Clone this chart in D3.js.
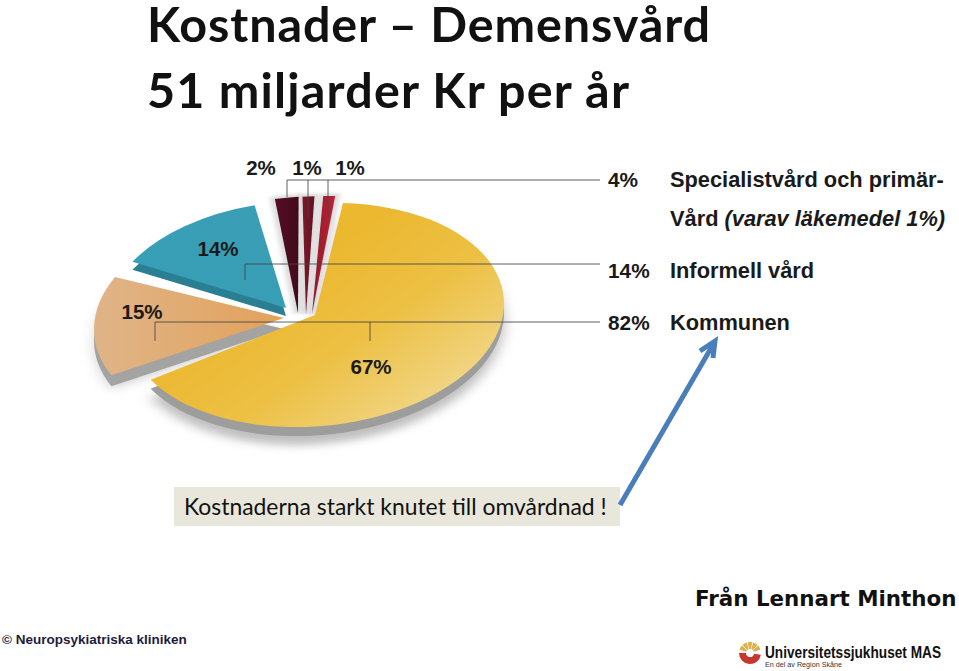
<!DOCTYPE html>
<html>
<head>
<meta charset="utf-8">
<script src="https://cdn.jsdelivr.net/npm/d3@7"></script>
<style>
  html, body { margin: 0; padding: 0; background: #fff; }
  svg { display: block; }
</style>
</head>
<body>
<div id="chart"></div>
<script>
// data
const titleLines = ['Kostnader – Demensvård', '51 miljarder Kr per år']
const sliceValues = [67, 15, 14, 2, 1, 1]
const legendShares = [4, 14, 82]
const legendNames = ['Specialistvård och primär-', 'Informell vård', 'Kommunen']
const noteText = 'Kostnaderna starkt knutet till omvårdnad !'

const width = 959
const height = 671
const tilt = 0.59
const shear = -0.06 // pie leans up to the right
const startDeg = 7

// how each slice sits in the tilted pie
const sliceFills = ['url(#gGold)', 'url(#gOrange)', 'url(#gTeal)', 'url(#gWine1)', 'url(#gWine2)', 'url(#gWine3)']
const sideFills = ['#9d9d9b', '#a3a3a1', '#2a7f93', null, null, null]
const sideDepth = [9, 11, 8, 0, 0, 0]
const radius = [189, 190, 180, 197, 199, 199]
const shiftX = [315, 284, 286, 298, 306, 312]
const shiftY = [315, 318, 308, 313, 314, 314]
const spin = [1.5, 4, 6, 7, 3.5, 2]

const svg = d3.select('#chart').append('svg').attr('width', width).attr('height', height)
const defs = svg.append('defs')

// gradients run over each slice's own box
function gradient(id, x1, y1, x2, y2, stops) {
  const g = defs.append('linearGradient').attr('id', id)
    .attr('x1', x1).attr('y1', y1).attr('x2', x2).attr('y2', y2)
  stops.forEach(s => g.append('stop').attr('offset', s[0]).attr('stop-color', s[1]))
}
gradient('gGold', 0.4, 0.3, 0.95, 0.85, [[0, '#ebb830'], [0.45, '#edc044'], [1, '#f1d88c']])
gradient('gOrange', 1, 0.5, 0, 0.5, [[0, '#e2a25a'], [1, '#e0b488']])
gradient('gTeal', 0, 1, 1, 0, [[0, '#359fb8'], [1, '#3b9eb4']])
gradient('gWine1', 0, 0, 1, 0, [[0, '#560d24'], [1, '#420a1c']])
gradient('gWine2', 0, 0, 1, 0, [[0, '#7c1828'], [1, '#621224']])
gradient('gWine3', 0, 0, 1, 0, [[0, '#8e1a2c'], [1, '#bd2335']])
defs.append('filter').attr('id', 'soft').attr('x', '-20%').attr('y', '-20%').attr('width', '140%').attr('height', '140%')
  .append('feGaussianBlur').attr('stdDeviation', 7)
defs.append('filter').attr('id', 'halo').attr('x', '-50%').attr('y', '-20%').attr('width', '200%').attr('height', '140%')
  .append('feGaussianBlur').attr('stdDeviation', 2.5)

// title
const titleWidths = [563, 482]
svg.selectAll('.title').data(titleLines).join('text')
  .attr('class', 'title')
  .attr('x', 147)
  .attr('y', (d, i) => 42 + i * 66)
  .attr('font-family', 'Lato, "Noto Sans", sans-serif')
  .attr('font-weight', 700)
  .attr('font-size', 48.5)
  .attr('fill', '#111')
  .attr('textLength', (d, i) => titleWidths[i])
  .attr('lengthAdjust', 'spacing')
  .text(d => d)

// pie
const toRad = Math.PI / 180
const pie = d3.pie().sort(null).padAngle(2.3 * toRad)
  .startAngle(startDeg * toRad)
  .endAngle((startDeg + 360) * toRad)
const slices = pie(sliceValues)
const arc = d3.arc().innerRadius(0)
const slicePath = (d, i) => arc({
  startAngle: d.startAngle + spin[i] * toRad,
  endAngle: d.endAngle - d.padAngle + spin[i] * toRad,
  outerRadius: radius[i]
})
const place = (i, dy) => `matrix(1,${shear},0,${tilt},${shiftX[i]},${shiftY[i] + dy})`

const pieG = svg.append('g').attr('class', 'pie')
pieG.append('path').attr('d', slicePath(slices[0], 0))
  .attr('transform', place(0, 18)).attr('fill', '#8a8a8a').attr('opacity', 0.55).attr('filter', 'url(#soft)')
pieG.append('path').attr('d', slicePath(slices[1], 1))
  .attr('transform', place(1, 14)).attr('fill', '#8a8a8a').attr('opacity', 0.35).attr('filter', 'url(#soft)')

// pale halo round the three thin slices
pieG.selectAll('.halo').data(slices.slice(3)).join('path')
  .attr('class', 'halo')
  .attr('d', (d, i) => slicePath(d, i + 3))
  .attr('transform', (d, i) => place(i + 3, 0))
  .attr('fill', '#dcdcdc').attr('stroke', '#dcdcdc').attr('stroke-width', 9)
  .attr('filter', 'url(#halo)')

pieG.selectAll('.side').data(slices).join('path')
  .attr('class', 'side')
  .attr('d', slicePath)
  .attr('transform', (d, i) => place(i, sideDepth[i]))
  .attr('fill', (d, i) => sideFills[i] || 'none')

pieG.selectAll('.top').data(slices).join('path')
  .attr('class', 'top')
  .attr('d', slicePath)
  .attr('transform', (d, i) => place(i, 0))
  .attr('fill', (d, i) => sliceFills[i])

// leader lines
const leaders = [
  'M287,197V180H600M308,218V180M328,218V180',
  'M245,280V264H600',
  'M155,341V322H600M370,341V322'
]
svg.selectAll('.leader').data(leaders).join('path')
  .attr('class', 'leader')
  .attr('d', d => d)
  .attr('fill', 'none')
  .attr('stroke', '#444')
  .attr('stroke-opacity', 0.85)
  .attr('stroke-width', 1)

// labels on the pie
const arial = '"Liberation Sans", Arial, sans-serif'
const labelX = [371, 142, 218, 261, 307, 350]
const labelY = [374, 319, 256, 175, 175, 175]
svg.selectAll('.lab').data(sliceValues).join('text')
  .attr('class', 'lab')
  .attr('x', (d, i) => labelX[i])
  .attr('y', (d, i) => labelY[i])
  .attr('text-anchor', 'middle')
  .attr('font-family', arial)
  .attr('font-weight', 700)
  .attr('font-size', 20.5)
  .attr('fill', '#1a1a1a')
  .text(d => d + '%')

// legend at the right
const legendY = [187, 278, 330]
const legend = svg.append('g').attr('font-family', arial).attr('font-weight', 700)
  .attr('font-size', 21.8).attr('fill', '#1a1a1a')
legend.selectAll('.share').data(legendShares).join('text')
  .attr('class', 'share')
  .attr('x', 608)
  .attr('y', (d, i) => legendY[i])
  .attr('font-size', 20.8)
  .text(d => d + '%')
legend.selectAll('.name').data(legendNames).join('text')
  .attr('class', 'name')
  .attr('x', 670)
  .attr('y', (d, i) => legendY[i])
  .text(d => d)
const extra = legend.append('text').attr('x', 670).attr('y', 226)
extra.append('tspan').text('Vård ')
extra.append('tspan').attr('font-style', 'italic').text('(varav läkemedel 1%)')

// note box and arrow
svg.append('rect').attr('x', 174).attr('y', 487).attr('width', 446).attr('height', 39).attr('fill', '#e9e7dc')
svg.append('text').attr('x', 184).attr('y', 515)
  .attr('font-family', 'Lato, "Noto Sans", sans-serif')
  .attr('font-size', 22.9).attr('fill', '#111')
  .text(noteText)
svg.append('path').attr('d', 'M620,505L714,343M700,351L715,341L713,358')
  .attr('fill', 'none').attr('stroke', '#4a7ebb').attr('stroke-width', 5)

// footer
svg.append('text').attr('x', 695).attr('y', 606)
  .attr('font-family', '"DejaVu Sans", sans-serif').attr('font-weight', 700)
  .attr('font-size', 21.4).attr('fill', '#111')
  .text('Från Lennart Minthon')
svg.append('text').attr('x', 2).attr('y', 644)
  .attr('font-family', arial).attr('font-weight', 700)
  .attr('font-size', 13.5).attr('fill', '#1c1c3a')
  .text('© Neuropsykiatriska kliniken')

// hospital logo
const logo = svg.append('g').attr('transform', 'translate(750,653)')
logo.selectAll('.ray').data([-150, -120, -90, -60, -30]).join('path')
  .attr('class', 'ray')
  .attr('d', d3.arc().innerRadius(4).outerRadius(11).startAngle(-0.22).endAngle(0.22))
  .attr('transform', d => `rotate(${d + 90})`)
  .attr('fill', '#d9b24c')
logo.append('path')
  .attr('d', d3.arc().innerRadius(4).outerRadius(11).startAngle(Math.PI * 0.55).endAngle(Math.PI * 1.5))
  .attr('fill', '#c8372d')
svg.append('text').attr('x', 765).attr('y', 658)
  .attr('font-family', arial).attr('font-weight', 700)
  .attr('font-size', 17).attr('fill', '#111')
  .attr('textLength', 176).attr('lengthAdjust', 'spacingAndGlyphs')
  .text('Universitetssjukhuset MAS')
svg.append('text').attr('x', 765).attr('y', 667)
  .attr('font-family', arial)
  .attr('font-size', 8).attr('fill', '#333')
  .attr('textLength', 77).attr('lengthAdjust', 'spacingAndGlyphs')
  .text('En del av Region Skåne')
</script>
</body>
</html>
